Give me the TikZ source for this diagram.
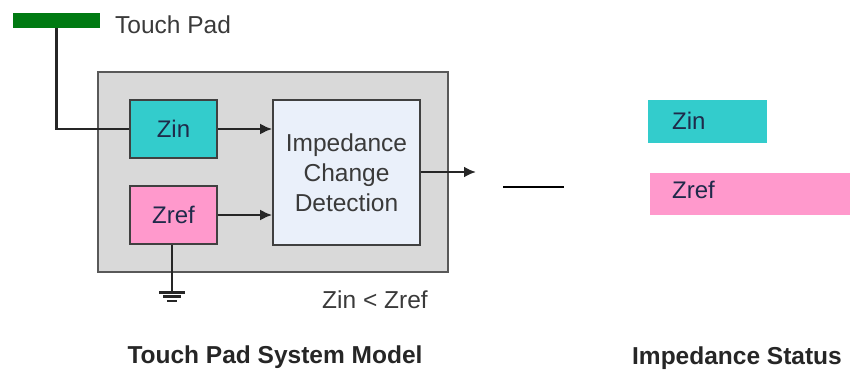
\documentclass[tikz,border=0pt]{standalone}
\usepackage{fontspec}
\setmainfont{Liberation Sans}
\usetikzlibrary{arrows.meta}
\definecolor{padgreen}{HTML}{007A12}
\definecolor{sysgray}{HTML}{D9D9D9}
\definecolor{zincyan}{HTML}{33CCCC}
\definecolor{zrefpink}{HTML}{FF99CC}
\definecolor{icdblue}{HTML}{EAF0FA}
\definecolor{txtgray}{HTML}{3A3A3A}
\definecolor{boxtxt}{HTML}{1F2A4A}
\tikzset{
  lbl/.style={font=\fontsize{24.5}{28}\selectfont, text=txtgray, inner sep=0pt},
  title/.style={font=\fontsize{24.5}{28}\selectfont\bfseries, text=black!85, inner sep=0pt},
  blk/.style={draw=black!75, line width=1.6pt, inner sep=0pt, font=\fontsize{24}{28}\selectfont, text=boxtxt},
  wire/.style={line width=2.6pt, black!85},
  arr/.style={wire, -{Latex[length=12pt,width=11pt]}},
  stat/.style={inner sep=0pt, font=\fontsize{24}{28}\selectfont, text=boxtxt}
}
\begin{document}
\begin{tikzpicture}[x=1pt,y=-1pt]
\useasboundingbox (0,0) rectangle (850,372);
% touch pad
\node[fill=padgreen, inner sep=0pt, minimum width=87pt, minimum height=15pt] (pad) at (56.5,20) {};
\node[lbl, anchor=west] (padlbl) at (115,25) {Touch Pad};
% system box
\node[draw=black!65, fill=sysgray, line width=1.6pt, minimum width=350pt, minimum height=200pt, inner sep=0pt] (sys) at (273,172) {};
\node[blk, fill=zincyan, minimum width=87pt, minimum height=58pt] (zin) at (173.5,129) {Zin};
\node[blk, fill=zrefpink, minimum width=87pt, minimum height=58pt] (zref) at (173.5,215) {Zref};
\node[blk, fill=icdblue, minimum width=147pt, minimum height=145pt, align=center, text=txtgray, font=\fontsize{24.5}{30}\selectfont] (icd) at (346.5,172.5) {Impedance\\Change\\Detection};
% connectors
\draw[wire] (pad.south) |- (zin.west);
\draw[arr] (zin.east) -- (zin.east -| icd.west);
\draw[arr] (zref.east) -- (zref.east -| icd.west);
\coordinate (outend) at (476,172);
\draw[arr] (icd.east |- outend) -- (outend);
% ground
\coordinate (gnd) at (172,292);
\draw[wire] (zref.south -| gnd) -- (gnd);
\draw[line width=3pt, black!85] (159,292) -- (185,292);
\draw[line width=2.4pt, black!85] (163,296.5) -- (181,296.5);
\draw[line width=2pt, black!85] (167,300.5) -- (177,300.5);
\node[lbl, anchor=west] (cond) at (322,300) {Zin < Zref};
\node[title] (t1) at (275,357) {Touch Pad System Model};
% status side
\coordinate (dashA) at (503,187);
\coordinate (dashB) at (564,187);
\draw[line width=2.2pt, black] (dashA) -- (dashB);
\node[fill=zincyan, inner sep=0pt, minimum width=119pt, minimum height=43pt] (szin) at (707.5,121.5) {};
\node[stat, anchor=west] (szinl) at (672,121) {Zin};
\node[fill=zrefpink, inner sep=0pt, minimum width=200pt, minimum height=42pt] (szref) at (750,194) {};
\node[stat, anchor=west] (szrefl) at (672,190) {Zref};
\node[title] (t2) at (737,358) {Impedance Status};
\end{tikzpicture}
\end{document}
